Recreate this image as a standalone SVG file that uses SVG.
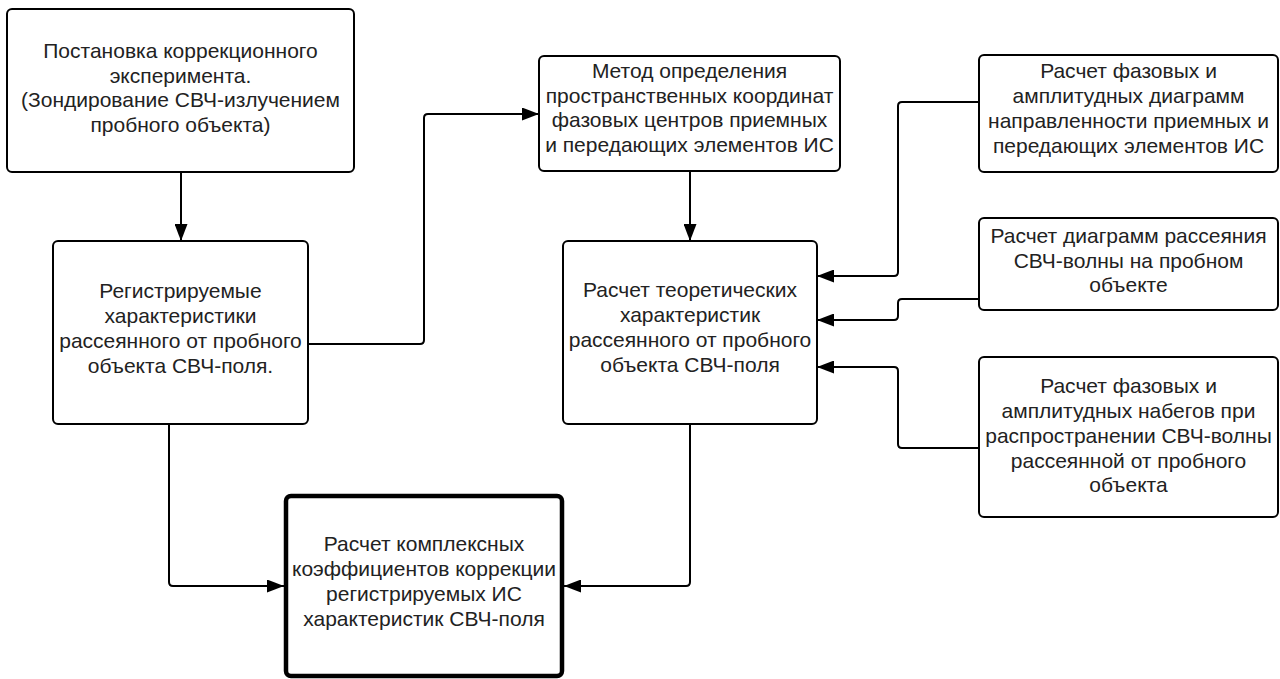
<svg xmlns="http://www.w3.org/2000/svg" width="1280" height="679" viewBox="0 0 1280 679">
<style>
.box{fill:#fff;stroke:#000;stroke-width:2}
.thick{fill:#fff;stroke:#000;stroke-width:4.5}
.t{font-family:"Liberation Sans",Arial,sans-serif;font-size:21px;fill:#222;text-anchor:middle}
.c{fill:none;stroke:#000;stroke-width:2}
</style>
<defs>
<marker id="arr" markerUnits="userSpaceOnUse" markerWidth="17" markerHeight="13" refX="17" refY="6.5" orient="auto">
<path d="M0,0 L17,6.5 L0,13 z" fill="#000"/>
</marker>
</defs>
<rect width="1280" height="679" fill="#fff"/>
<g id="connectors">
<path class="c" d="M181,172 V241" marker-end="url(#arr)"/>
<path class="c" d="M308,344 H420 Q424,344 424,340 V118 Q424,114 428,114 H539" marker-end="url(#arr)"/>
<path class="c" d="M690,171 V241" marker-end="url(#arr)"/>
<path class="c" d="M979,102 H902 Q898,102 898,106 V272 Q898,276 894,276 H817" marker-end="url(#arr)"/>
<path class="c" d="M979,299 H902 Q898,299 898,303 V316 Q898,320 894,320 H817" marker-end="url(#arr)"/>
<path class="c" d="M979,448 H902 Q898,448 898,444 V371 Q898,367 894,367 H817" marker-end="url(#arr)"/>
<path class="c" d="M169,424 V582 Q169,586 173,586 H284" marker-end="url(#arr)"/>
<path class="c" d="M690,424 V582 Q690,586 686,586 H564" marker-end="url(#arr)"/>
</g>
<g id="n1">
<rect class="box" x="7" y="9" width="347" height="163" rx="5"/>
<text class="t" x="180.5" y="58">Постановка коррекционного</text>
<text class="t" x="180.5" y="83">эксперимента.</text>
<text class="t" x="180.5" y="107">(Зондирование СВЧ-излучением</text>
<text class="t" x="180.5" y="132">пробного объекта)</text>
</g>
<g id="n2">
<rect class="box" x="53" y="241" width="255" height="183" rx="5"/>
<text class="t" x="180.5" y="298">Регистрируемые</text>
<text class="t" x="180.5" y="323">характеристики</text>
<text class="t" x="180.5" y="348">рассеянного от пробного</text>
<text class="t" x="180.5" y="373">объекта СВЧ-поля.</text>
</g>
<g id="n3">
<rect class="box" x="539" y="56" width="301" height="115" rx="5"/>
<text class="t" x="689.5" y="78">Метод определения</text>
<text class="t" x="689.5" y="103">пространственных координат</text>
<text class="t" x="689.5" y="127">фазовых центров приемных</text>
<text class="t" x="689.5" y="152">и передающих элементов ИС</text>
</g>
<g id="n4">
<rect class="box" x="563" y="241" width="254" height="183" rx="5"/>
<text class="t" x="690" y="297">Расчет теоретических</text>
<text class="t" x="690" y="322">характеристик</text>
<text class="t" x="690" y="347">рассеянного от пробного</text>
<text class="t" x="690" y="372">объекта СВЧ-поля</text>
</g>
<g id="n5">
<rect class="box" x="979" y="55" width="299" height="117" rx="5"/>
<text class="t" x="1128.5" y="78">Расчет фазовых и</text>
<text class="t" x="1128.5" y="103">амплитудных диаграмм</text>
<text class="t" x="1128.5" y="128">направленности приемных и</text>
<text class="t" x="1128.5" y="153">передающих элементов ИС</text>
</g>
<g id="n6">
<rect class="box" x="979" y="218" width="299" height="92" rx="5"/>
<text class="t" x="1128.5" y="243">Расчет диаграмм рассеяния</text>
<text class="t" x="1128.5" y="268">СВЧ-волны на пробном</text>
<text class="t" x="1128.5" y="292">объекте</text>
</g>
<g id="n7">
<rect class="box" x="979" y="357" width="299" height="160" rx="5"/>
<text class="t" x="1128.5" y="393">Расчет фазовых и</text>
<text class="t" x="1128.5" y="418">амплитудных набегов при</text>
<text class="t" x="1128.5" y="443">распространении СВЧ-волны</text>
<text class="t" x="1128.5" y="468">рассеянной от пробного</text>
<text class="t" x="1128.5" y="492">объекта</text>
</g>
<g id="n8">
<rect class="thick" x="286" y="496" width="276" height="180" rx="5"/>
<text class="t" x="424" y="551">Расчет комплексных</text>
<text class="t" x="424" y="576">коэффициентов коррекции</text>
<text class="t" x="424" y="601">регистрируемых ИС</text>
<text class="t" x="424" y="626">характеристик СВЧ-поля</text>
</g>
</svg>
